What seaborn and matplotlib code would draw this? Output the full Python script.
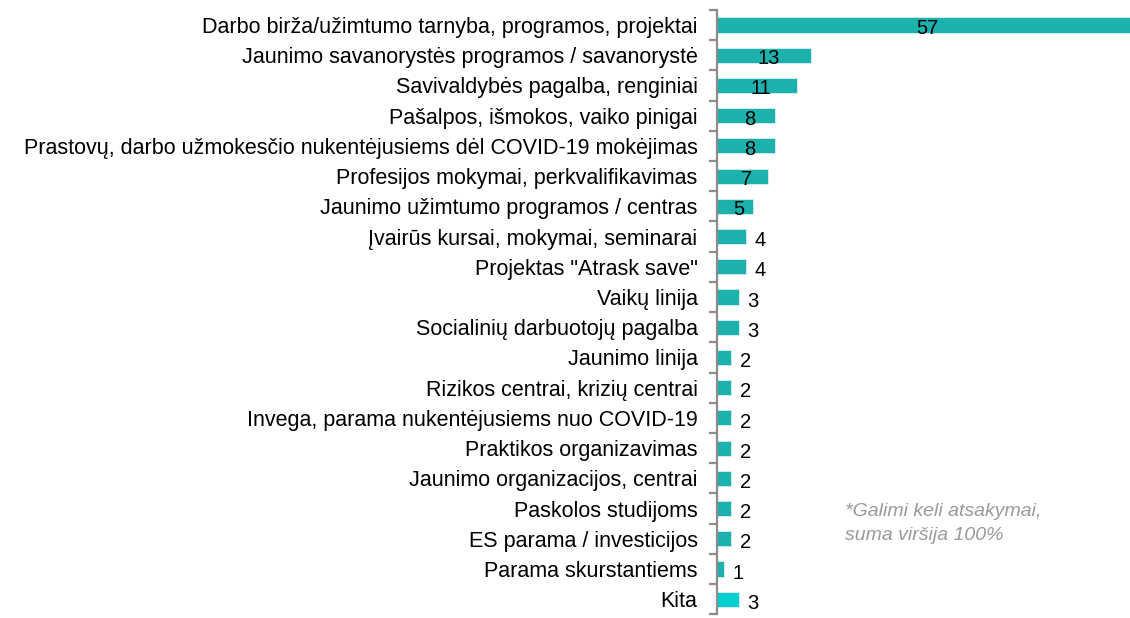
import pandas as pd
import seaborn as sns
import matplotlib.pyplot as plt
import numpy as np

categories = [
    "Darbo birža/užimtumo tarnyba, programos, projektai",
    "Jaunimo savanorystės programos / savanorystė",
    "Savivaldybės pagalba, renginiai",
    "Pašalpos, išmokos, vaiko pinigai",
    "Prastovų, darbo užmokesčio nukentėjusiems dėl COVID-19 mokėjimas",
    "Profesijos mokymai, perkvalifikavimas",
    "Jaunimo užimtumo programos / centras",
    "Įvairūs kursai, mokymai, seminarai",
    "Projektas \"Atrask save\"",
    "Vaikų linija",
    "Socialinių darbuotojų pagalba",
    "Jaunimo linija",
    "Rizikos centrai, krizių centrai",
    "Invega, parama nukentėjusiems nuo COVID-19",
    "Praktikos organizavimas",
    "Jaunimo organizacijos, centrai",
    "Paskolos studijoms",
    "ES parama / investicijos",
    "Parama skurstantiems",
    "Kita",
]
values = [57, 13, 11, 8, 8, 7, 5, 4, 4, 3, 3, 2, 2, 2, 2, 2, 2, 2, 1, 3]
note = "*Galimi keli atsakymai,\nsuma viršija 100%"

teal = "#1db1ad"
cyan = "#00ced1"
colors = [teal] * (len(categories) - 1) + [cyan]

df = pd.DataFrame({"category": categories, "value": values})

sns.set_style("white")
plt.rcParams['font.family'] = ['Liberation Sans', 'DejaVu Sans']
plt.rcParams['text.color'] = 'black'
plt.rcParams['ytick.color'] = 'black'
plt.rcParams['ytick.labelcolor'] = 'black'

fig = plt.figure(figsize=(11.3, 6.18), dpi=100)
ax = fig.add_axes([0.6345, 0.006, 0.3655, 0.978])

sns.barplot(data=df, y="category", x="value", hue="category", palette=colors,
            orient="h", width=0.5, legend=False, ax=ax,
            edgecolor="#d8f0ef", linewidth=0.6, saturation=1)

ax.set_xlim(0, 57)
ax.set_ylim(len(categories) - 0.5, -0.5)
ax.set_xlabel("")
ax.set_ylabel("")
ax.set_xticks([])

for s in ["top", "right", "bottom"]:
    ax.spines[s].set_visible(False)
ax.spines["left"].set_color("#8c8c8c")
ax.spines["left"].set_linewidth(1.6)

ax.set_yticks(range(len(categories)))
ax.set_yticklabels(categories, fontsize=15.5)
ax.tick_params(axis="y", which="major", left=True, length=0, pad=14)
ax.set_yticks(np.arange(-0.5, len(categories), 1), minor=True)
ax.tick_params(axis="y", which="minor", left=True, length=6, width=1.6,
               color="#8c8c8c", direction="out")

for i, v in enumerate(values):
    if v >= 5:
        # label centred inside the bar
        ax.annotate(str(v), (v / 2, i), xytext=(3, -2.5), textcoords="offset points",
                    ha="center", va="center", fontsize=14.5)
    else:
        ax.annotate(str(v), (v, i), xytext=(6, -3), textcoords="offset points",
                    ha="left", va="center", fontsize=14.5)

fig.text(0.748, 0.153, note, fontsize=14, style="italic", color="#9a9a9a",
         ha="left", va="center", linespacing=1.55)

fig.savefig("out.png", dpi=100)
